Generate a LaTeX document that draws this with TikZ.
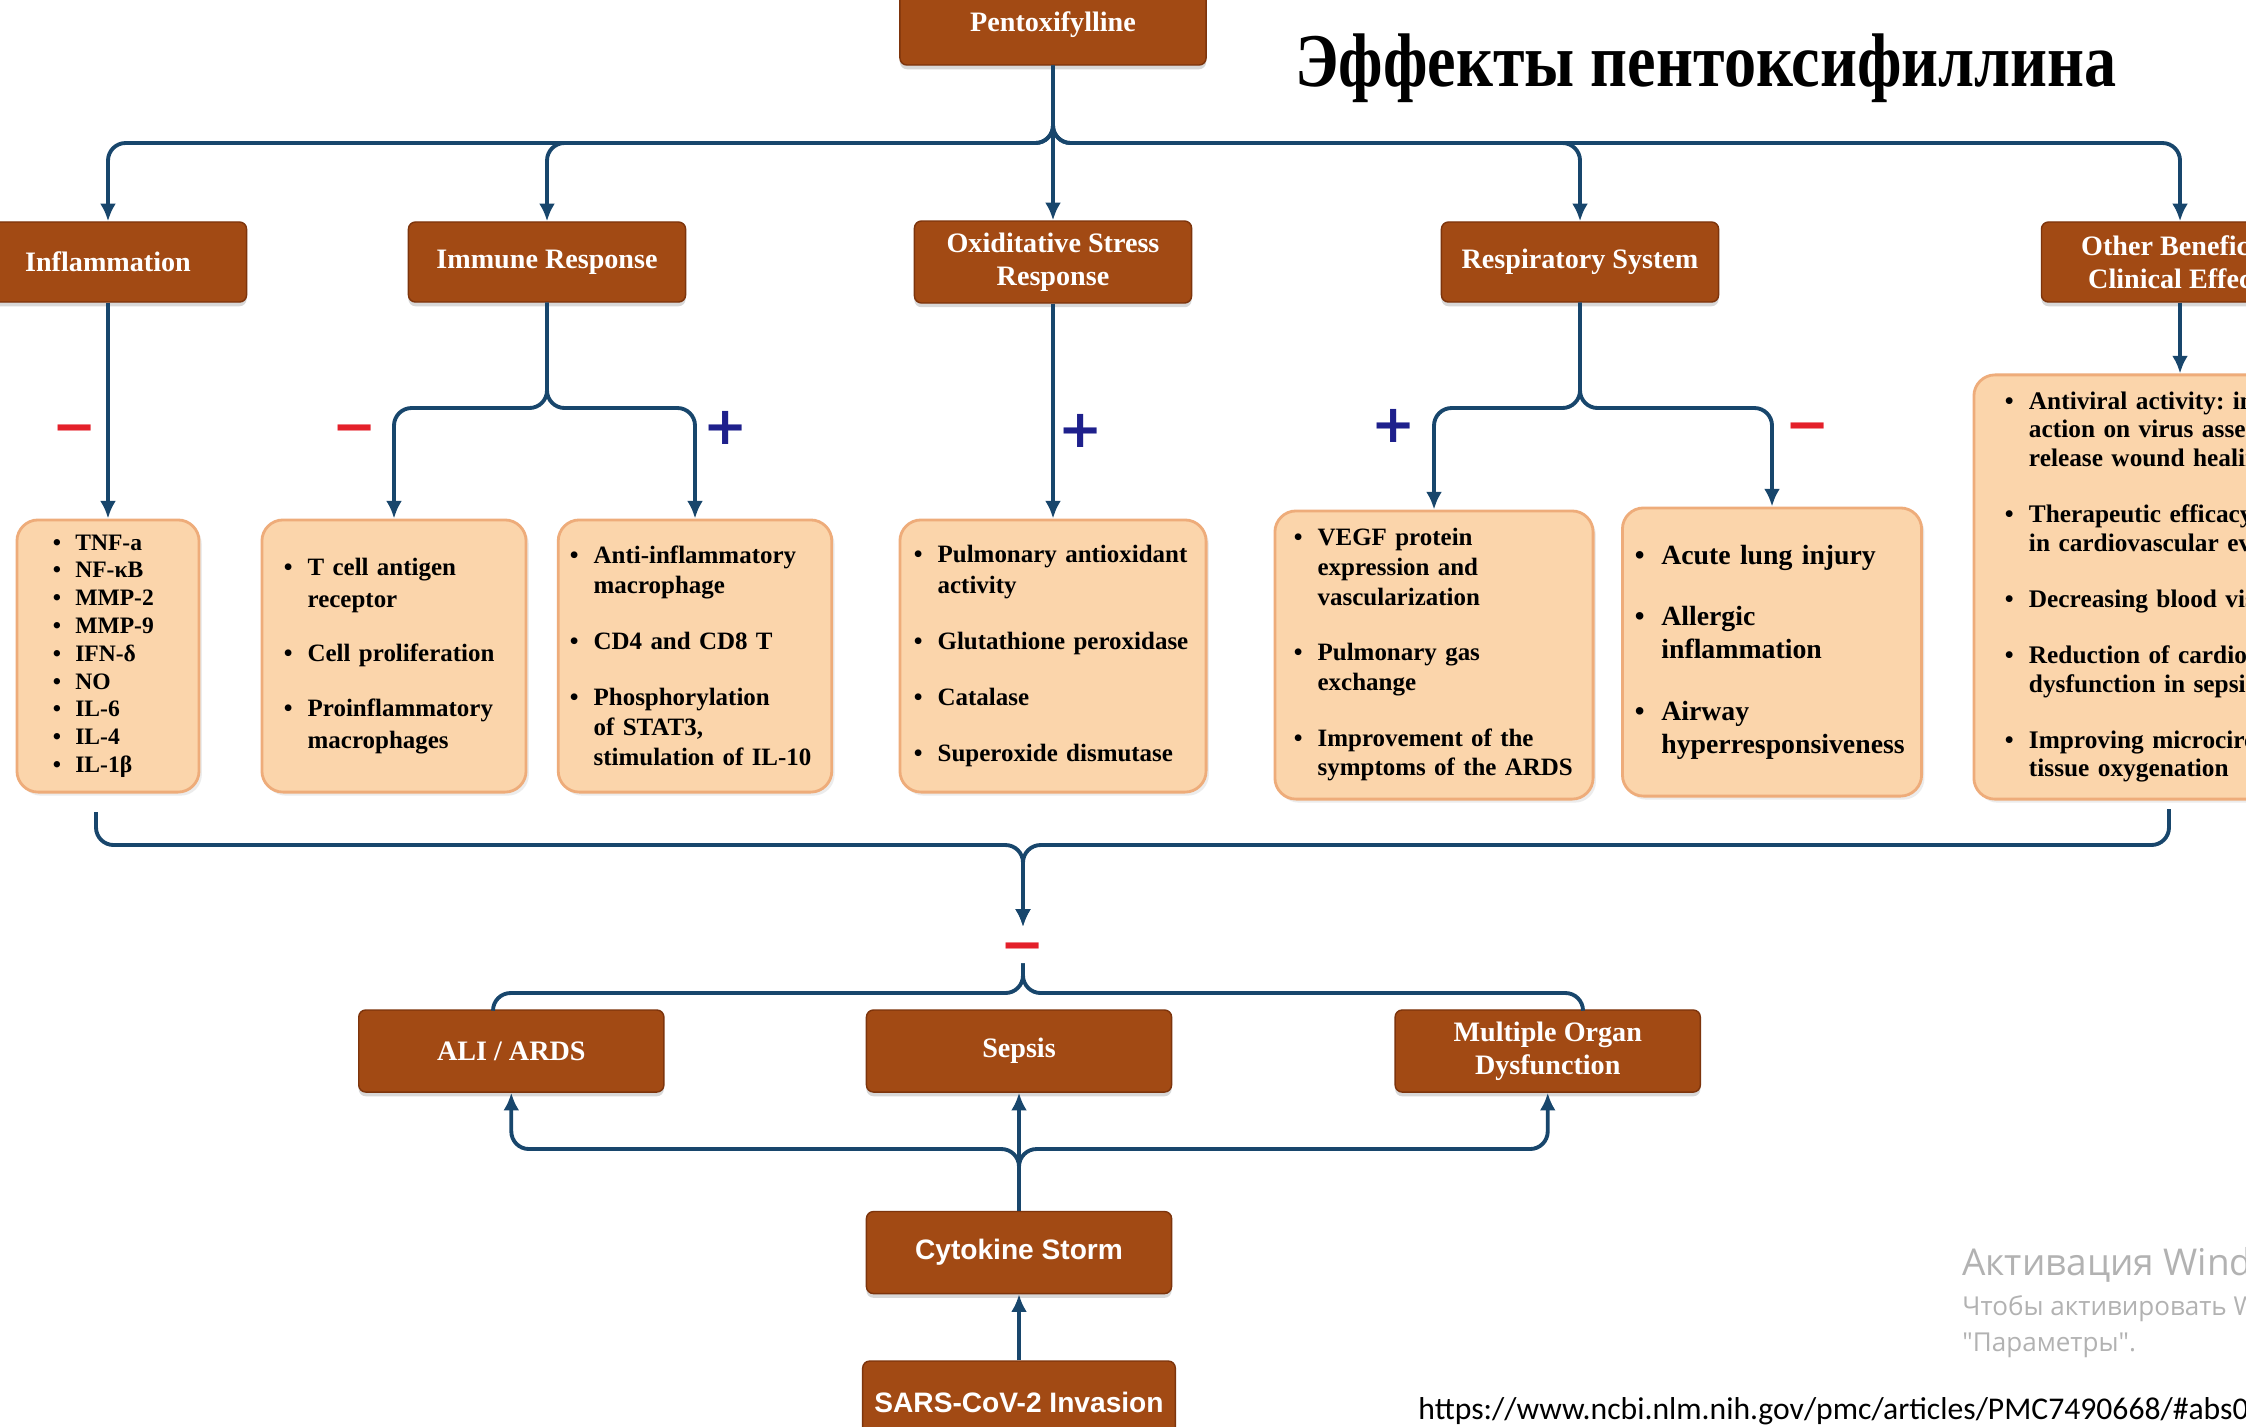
\documentclass[tikz,border=0pt]{standalone}
\usepackage{fontspec}
\setmainfont{Liberation Serif}
\newfontfamily\titlefont[FakeStretch=0.845]{Liberation Serif}
\newfontfamily\sansbold{Liberation Sans}
\newfontfamily\signfont{DejaVu Sans}
\newfontfamily\wmfont{Open Sans}
\newfontfamily\linkfont{Carlito}
\usetikzlibrary{shadows,arrows.meta,positioning,calc}
\frenchspacing
\definecolor{boxbrown}{RGB}{162,74,20}
\definecolor{boxedge}{RGB}{125,52,12}
\definecolor{peach}{RGB}{251,213,171}
\definecolor{peachedge}{RGB}{238,172,122}
\definecolor{linkblue}{RGB}{24,70,108}
\definecolor{minusred}{RGB}{228,32,42}
\definecolor{plusblue}{RGB}{30,32,140}
\newcommand{\itm}{\hangindent=0.95em\hangafter=1\noindent\hbox to 0.95em{\textbullet\hfil}}
\newcommand{\gap}[1]{\setlength{\parskip}{#1}}

\begin{document}
\begin{tikzpicture}
[x=0.01cm,y=0.01cm,
edge/.style={linkblue,line width=1.1pt,rounded corners=5pt,>={Latex[length=5pt,width=4.5pt]}},
cat/.style={fill=boxbrown,draw=boxedge,thin,rounded corners=2pt,text=white,align=center,
  minimum width=2.77cm,minimum height=0.8cm,font=\bfseries\fontsize{8}{9.4}\selectfont,
  drop shadow={opacity=.3,shadow xshift=0pt,shadow yshift=-1.2pt}},
bot/.style={cat,minimum width=3.05cm,minimum height=0.82cm},
botsans/.style={bot,font=\sansbold\bfseries\fontsize{8}{9.4}\selectfont},
listbox/.style={fill=peach,draw=peachedge,line width=.8pt,rounded corners=6pt,
  font=\bfseries\fontsize{7.1}{8.8}\selectfont,
  drop shadow={opacity=.15,shadow xshift=.8pt,shadow yshift=-1pt}},
sign/.style={inner sep=0pt,text height=10pt,text depth=0pt,
  font=\signfont\bfseries\fontsize{15}{15}\selectfont},
minus/.style={sign,text=minusred},
plus/.style={sign,text=plusblue}]
\useasboundingbox (0,0) rectangle (2246,-1426);
\fill[white] (0,0) rectangle (2246,-1426);
%%
\node[cat,minimum width=3.06cm] (pent) at (1053,-25) {Pentoxifylline};
\node[font=\titlefont\bfseries\fontsize{21.6}{26}\selectfont,anchor=base west] (title) at (1283,-86)
{Эффекты пентоксифиллина};
%%
\node[cat] (infl) at (108,-262) {Inflammation};
\node[cat] (imm) at (547,-262) {Immune Response};
\node[cat] (oxid) at (1053,-262) {Oxiditative Stress\\Response};
\node[cat] (resp) at (1580,-262) {Respiratory System};
\node[cat] (oth) at (2180,-262) {Other Beneficial\\Clinical Effects};
%%
\node[listbox,font=\bfseries\fontsize{6.7}{7.9}\selectfont,text width=1.1cm,
  minimum width=1.82cm,minimum height=2.72cm] (inflist) at (108,-656)
{\itm TNF-a\par\itm NF-κB\par\itm MMP-2\par\itm MMP-9\par\itm IFN-δ\par
 \itm NO\par\itm IL-6\par\itm IL-4\par\itm IL-1β\par};
\node[listbox,font=\bfseries\fontsize{7.1}{9}\selectfont,text width=2.2cm,
  minimum width=2.64cm,minimum height=2.72cm] (tcell) at (394,-656)
{\gap{6.5pt}\itm T cell antigen\newline receptor\par\itm Cell proliferation\par
 \itm Proinflammatory\newline macrophages\par};
\node[listbox,font=\bfseries\fontsize{7.1}{8.6}\selectfont,text width=2.5cm,
  minimum width=2.65cm,minimum height=2.72cm] (antiinf) at (695,-656)
{\gap{7.2pt}\itm Anti-inflammatory\newline macrophage\par\itm CD4 and CD8 T\par
 \itm Phosphorylation\newline of STAT3,\newline stimulation of IL-10\par};
\node[listbox,font=\bfseries\fontsize{7.1}{9}\selectfont,text width=2.78cm,
  minimum width=3.06cm,minimum height=2.72cm] (oxlist) at (1053,-656)
{\gap{6.9pt}\itm Pulmonary antioxidant\newline activity\par\itm Glutathione peroxidase\par
 \itm Catalase\par\itm Superoxide dismutase\par};
\node[listbox,font=\bfseries\fontsize{7.1}{8.4}\selectfont,text width=2.8cm,
  minimum width=3.18cm,minimum height=2.88cm] (vegf) at (1434,-655)
{\gap{7.5pt}\itm VEGF protein\newline expression and\newline vascularization\par
 \itm Pulmonary gas\newline exchange\par\itm Improvement of the\newline symptoms of the ARDS\par};
\node[listbox,font=\bfseries\fontsize{7.9}{9.4}\selectfont,text width=2.74cm,
  minimum width=2.99cm,minimum height=2.88cm] (acute) at (1772,-652)
{\gap{8.1pt}\itm Acute lung injury\par\itm Allergic\newline inflammation\par
 \itm Airway\newline hyperresponsiveness\par};
\node[listbox,font=\bfseries\fontsize{7.2}{8.2}\selectfont,text width=3.5cm,
  minimum width=4.12cm,minimum height=4.24cm] (othlist) at (2180,-587)
{\gap{7.7pt}\itm Antiviral activity: in\newline action on virus assem\newline release wound healin\par
 \itm Therapeutic efficacy\newline in cardiovascular ev\par\itm Decreasing blood vis\par
 \itm Reduction of cardiop\newline dysfunction in sepsis\par\itm Improving microcirc\newline tissue oxygenation\par};
%%
\node[bot] (sepsis) at (1019,-1051) {Sepsis};
\node[bot,left=2.01cm of sepsis] (ali) {ALI / ARDS};
\node[bot,right=2.22cm of sepsis] (mof) {Multiple Organ\\Dysfunction};
\node[botsans,below=1.18cm of sepsis] (cyto) {Cytokine Storm};
\node[botsans,below=0.66cm of cyto] (sars) {SARS-CoV-2 Invasion};
%%
\node[minus] (m1) at (75,-427) {−};
\node[minus] (m2) at (355,-427) {−};
\node[plus] (p1) at (726,-427) {+};
\node[plus] (p2) at (1081,-430) {+};
\node[plus] (p3) at (1394,-425) {+};
\node[minus] (m3) at (1808,-425) {−};
\node[minus] (m4) at (1023,-945) {−};
%%
\coordinate (topj) at (1053,-143);
\foreach \nd in {infl,imm,resp,oth}
  \draw[edge,->] (pent) -- (topj) -| (\nd);
\draw[edge,->] (pent) -- (oxid);
\draw[edge,->] (infl) -- (inflist);
\coordinate (immj) at (547,-408);
\draw[edge,->] (imm) -- (immj) -| (tcell);
\draw[edge,->] (imm) -- (immj) -| (antiinf);
\draw[edge,->] (oxid) -- (oxlist);
\coordinate (respj) at (1580,-408);
\draw[edge,->] (resp) -- (respj) -| (vegf);
\draw[edge,->] (resp) -- (respj) -| (acute);
\draw[edge,->] (oth) -- (othlist);
%%
\coordinate (bl) at (96,-812);
\coordinate (br) at (2169,-809);
\coordinate (bj) at (1023,-845);
\draw[edge,->] (bl) |- (bj) -- (m4);
\draw[edge,->] (br) |- (bj) -- (m4);
\coordinate (dj) at (1023,-993);
\coordinate (aliin) at (493,-1010);
\coordinate (mofin) at (1583,-1010);
\draw[edge] (m4) -- (dj) -| (aliin);
\draw[edge] (m4) -- (dj) -| (mofin);
\coordinate (cj) at (1019,-1149);
\draw[edge,->] (cyto) -- (cj) -| (ali);
\draw[edge,->] (cyto) -- (cj) -| (mof);
\draw[edge,->] (cyto) -- (sepsis);
\draw[edge,->] (sars) -- (cyto);
%%
\node[font=\wmfont\fontsize{10.5}{12}\selectfont,text=black!30,anchor=base west] (wm1) at (1950,-1275) {Активация Wind};
\node[font=\wmfont\fontsize{7.4}{9}\selectfont,text=black!30,anchor=base west] (wm2) at (1950,-1315) {Чтобы активировать W};
\node[font=\wmfont\fontsize{7.4}{9}\selectfont,text=black!30,anchor=base west] (wm3) at (1950,-1351) {"Параметры".};
\node[font=\linkfont\fontsize{9}{11}\selectfont,anchor=base west] (url) at (1406,-1419)
{https://www.ncbi.nlm.nih.gov/pmc/articles/PMC7490668/\#abs0};
\end{tikzpicture}
\end{document}
